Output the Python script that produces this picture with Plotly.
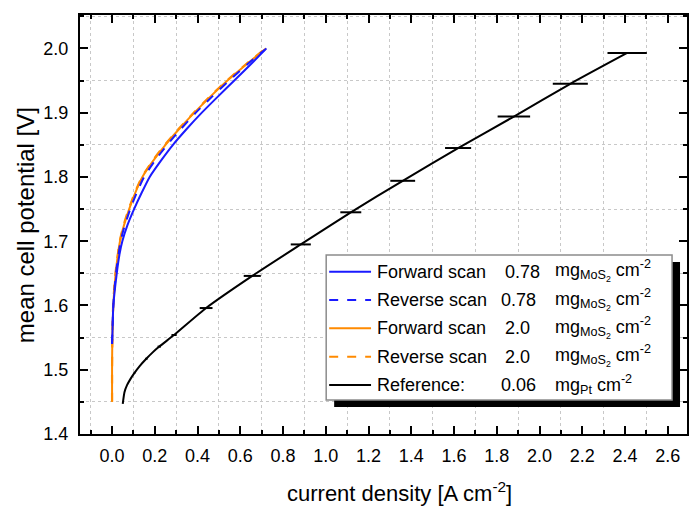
import plotly.graph_objects as go

# ---------------- data ----------------
blue_fwd_v = [1.54, 1.56, 1.60, 1.65, 1.68, 1.70, 1.725, 1.75, 1.775, 1.80, 1.825, 1.85, 1.875, 1.90, 1.925, 1.95, 1.975, 2.00]
blue_fwd_j = [0.000, 0.002, 0.006, 0.022, 0.035, 0.048, 0.072, 0.103, 0.138, 0.176, 0.228, 0.285, 0.350, 0.420, 0.495, 0.572, 0.648, 0.722]

blue_rev_v = [1.54, 1.60, 1.65, 1.70, 1.725, 1.75, 1.775, 1.80, 1.825, 1.85, 1.875, 1.90, 1.925, 1.95, 1.975, 1.998]
blue_rev_j = [0.000, 0.006, 0.018, 0.040, 0.060, 0.085, 0.115, 0.150, 0.200, 0.258, 0.323, 0.392, 0.468, 0.548, 0.632, 0.715]

orng_fwd_v = [1.45, 1.50, 1.54, 1.60, 1.65, 1.70, 1.725, 1.75, 1.775, 1.80, 1.825, 1.85, 1.875, 1.90, 1.925, 1.95, 1.975, 2.00]
orng_fwd_j = [0.000, 0.000, 0.001, 0.006, 0.017, 0.037, 0.056, 0.080, 0.108, 0.142, 0.192, 0.250, 0.315, 0.385, 0.460, 0.540, 0.628, 0.720]

orng_rev_v = [1.45, 1.50, 1.54, 1.60, 1.65, 1.70, 1.725, 1.75, 1.775, 1.80, 1.825, 1.85, 1.875, 1.90, 1.925, 1.95, 1.975, 2.00]
orng_rev_j = [0.000, 0.000, 0.001, 0.005, 0.016, 0.036, 0.054, 0.078, 0.106, 0.140, 0.189, 0.247, 0.312, 0.382, 0.457, 0.537, 0.625, 0.718]

ref_v = [1.447, 1.465, 1.476, 1.485, 1.495, 1.506, 1.517, 1.527, 1.536, 1.554, 1.596, 1.646, 1.695, 1.745, 1.794, 1.845, 1.894, 1.945, 1.993]
ref_j = [0.050, 0.058, 0.070, 0.085, 0.105, 0.130, 0.160, 0.190, 0.221, 0.290, 0.440, 0.656, 0.883, 1.117, 1.360, 1.619, 1.880, 2.144, 2.410]
ref_err = [0, 0, 0, 0, 0.004, 0, 0.006, 0, 0.008, 0.012, 0.030, 0.040, 0.047, 0.049, 0.058, 0.061, 0.076, 0.082, 0.092]

legend_names = ["Forward scan", "Reverse scan", "Forward scan", "Reverse scan", "Reference:"]
legend_loads = ["0.78", "0.78", "2.0", "2.0", "0.06"]
legend_units = ["mg<sub>MoS<sub>2</sub></sub> cm<sup>-2</sup>"] * 4 + ["mg<sub>Pt</sub> cm<sup>-2</sup>"]

BLUE = "#1a1aff"
ORNG = "#ff8a00"
FONT = "Liberation Sans, Arial, sans-serif"

W, H = 689, 506
L, R, T, B = 80, 0, 15, 72
PW, PH = W - L - R, H - T - B


def px_x(p):
    return (p - L) / PW


def px_y(p):
    return (H - B - p) / PH


SM = 0.6
fig = go.Figure()
fig.add_trace(go.Scatter(x=orng_fwd_j, y=orng_fwd_v, mode="lines",
                         line=dict(color=ORNG, width=2, shape="spline", smoothing=SM), showlegend=False))
fig.add_trace(go.Scatter(x=orng_rev_j, y=orng_rev_v, mode="lines",
                         line=dict(color=ORNG, width=2.2, dash="dash", shape="spline", smoothing=SM), showlegend=False))
fig.add_trace(go.Scatter(x=blue_fwd_j, y=blue_fwd_v, mode="lines",
                         line=dict(color=BLUE, width=2, shape="spline", smoothing=SM), showlegend=False))
fig.add_trace(go.Scatter(x=blue_rev_j, y=blue_rev_v, mode="lines",
                         line=dict(color=BLUE, width=2, dash="dash", shape="spline", smoothing=SM), showlegend=False))
fig.add_trace(go.Scatter(x=ref_j, y=ref_v, mode="lines",
                         line=dict(color="black", width=2, shape="spline", smoothing=0.5),
                         error_x=dict(type="data", array=ref_err, visible=True,
                                      color="black", thickness=2, width=0),
                         showlegend=False))

# ---------------- legend (manual) ----------------
lx0, lx1, ly0, ly1 = 327, 674, 255, 400
fig.add_shape(type="rect", xref="paper", yref="paper",
              x0=px_x(lx0 + 8), x1=px_x(lx1 + 8), y0=px_y(ly1 + 7), y1=px_y(ly0 + 7),
              fillcolor="black", line=dict(width=0), layer="above")
fig.add_shape(type="rect", xref="paper", yref="paper",
              x0=px_x(lx0), x1=px_x(lx1), y0=px_y(ly1), y1=px_y(ly0),
              fillcolor="white", line=dict(color="#8c8c8c", width=1.5), layer="above")

row_y = [271.7, 300, 328.3, 356.7, 385]
sample_styles = [(BLUE, "solid"), (BLUE, "dash"), (ORNG, "solid"), (ORNG, "dash"), ("black", "solid")]
load_x = [504, 500, 504, 504, 500]
for i, yy in enumerate(row_y):
    col, dsh = sample_styles[i]
    fig.add_shape(type="line", xref="paper", yref="paper",
                  x0=px_x(330), x1=px_x(372), y0=px_y(yy), y1=px_y(yy),
                  line=dict(color=col, width=2, dash=dsh), layer="above")
    fig.add_annotation(xref="paper", yref="paper", x=px_x(376), y=px_y(yy),
                       text=legend_names[i], showarrow=False, xanchor="left", yanchor="middle",
                       font=dict(family=FONT, size=18, color="black"))
    fig.add_annotation(xref="paper", yref="paper", x=px_x(load_x[i]), y=px_y(yy),
                       text=legend_loads[i], showarrow=False, xanchor="left", yanchor="middle",
                       font=dict(family=FONT, size=18, color="black"))
    fig.add_annotation(xref="paper", yref="paper", x=px_x(555), y=px_y(yy - 1),
                       text=legend_units[i], showarrow=False, xanchor="left", yanchor="middle",
                       font=dict(family=FONT, size=18, color="black"))

# axis titles
fig.add_annotation(xref="paper", yref="paper", x=px_x(401), y=px_y(492),
                   text="current density [A cm<sup>-2</sup>]", showarrow=False,
                   xanchor="center", yanchor="middle",
                   font=dict(family=FONT, size=22, color="black"))
fig.add_annotation(xref="paper", yref="paper", x=px_x(25), y=px_y(225),
                   text="mean cell potential [V]", showarrow=False, textangle=-90,
                   xanchor="center", yanchor="middle",
                   font=dict(family=FONT, size=24, color="black"))

axis_common = dict(showline=True, linecolor="black", linewidth=2, mirror="ticks",
                   ticks="inside", ticklen=8, tickwidth=1.5, tickcolor="black",
                   showgrid=False, zeroline=False,
                   tickfont=dict(family=FONT, size=18, color="black"))

fig.update_xaxes(range=[-0.15, 2.69], tick0=0, dtick=0.2, tickformat=".1f",
                 ticklabelstandoff=4,
                 minor=dict(dtick=0.1, tick0=0, ticks="inside", ticklen=4, tickwidth=1.5,
                            tickcolor="black", showgrid=True, gridcolor="#c8c8c8",
                            griddash="dot", gridwidth=1),
                 **axis_common)
fig.update_yaxes(range=[1.4, 2.052], tick0=1.4, dtick=0.1, tickformat=".1f",
                 ticklabelstandoff=6,
                 minor=dict(dtick=0.05, tick0=1.4, ticks="inside", ticklen=4, tickwidth=1.5,
                            tickcolor="black", showgrid=True, gridcolor="#c8c8c8",
                            griddash="dot", gridwidth=1),
                 **axis_common)

fig.update_layout(width=W, height=H, margin=dict(l=L, r=R, t=T, b=B),
                  paper_bgcolor="white", plot_bgcolor="white", showlegend=False)

fig.write_html("out.html")
